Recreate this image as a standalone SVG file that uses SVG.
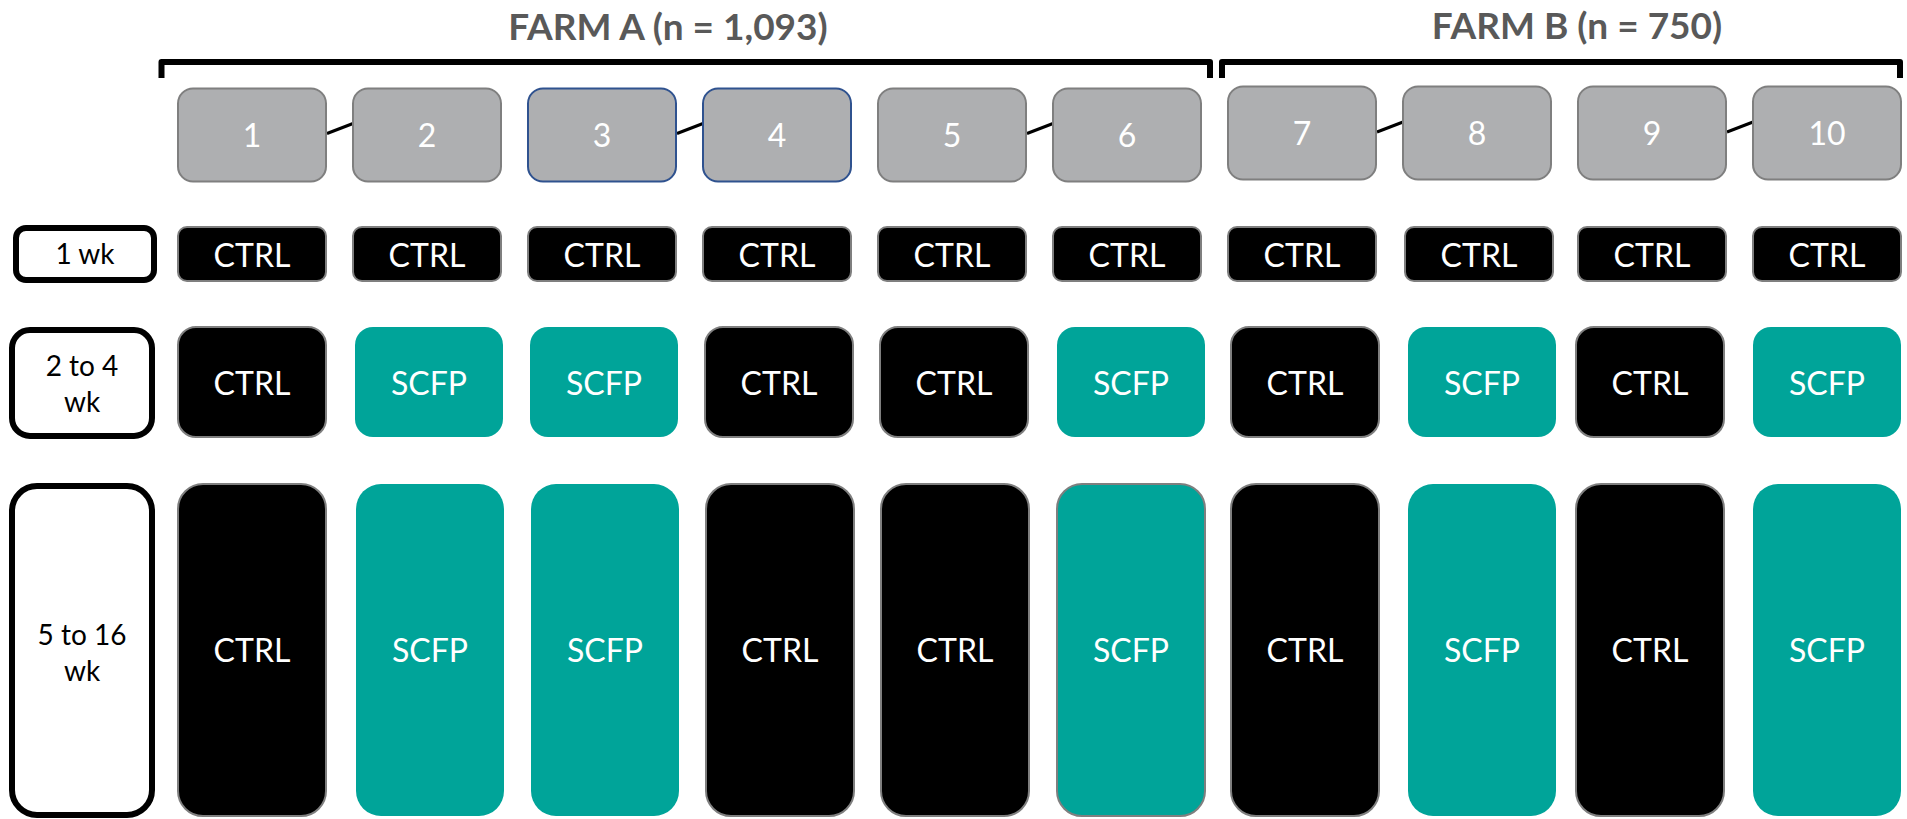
<svg xmlns="http://www.w3.org/2000/svg" width="1907" height="819" viewBox="0 0 1907 819">
  <style>
    .pen { fill: #aeafb1; stroke: #7f7f7f; stroke-width: 2; }
    .pen.blue { stroke: #2f528f; }
    .ctrl { fill: #000000; stroke: #7f7f7f; stroke-width: 2; }
    .scfp { fill: #00a499; }
    .scfp.edged { stroke: #7f7f7f; stroke-width: 2; }
    .lbl { fill: #ffffff; stroke: #000000; stroke-width: 6; }
    .num, .trt { font-family: Lato, "Open Sans", sans-serif; font-size: 32px; fill: #ffffff; text-anchor: middle; }
    .lbltxt { font-family: Lato, "Open Sans", sans-serif; font-size: 28px; fill: #000000; text-anchor: middle; }
    .farm { font-family: Lato, "Open Sans", sans-serif; font-weight: bold; font-size: 37px; fill: #595959; text-anchor: middle; }
    .brace { fill: none; stroke: #000000; stroke-width: 6; stroke-linejoin: round; }
    .link { stroke: #000000; stroke-width: 3; }
  </style>
  <rect width="1907" height="819" fill="#ffffff"/>

  <!-- farm headings and brackets -->
  <g id="farm-a">
    <text class="farm" x="668" y="40">FARM A (n = 1,093)</text>
    <path class="brace" d="M161.5,78 V62 H1210 V78"/>
  </g>
  <g id="farm-b">
    <text class="farm" x="1577" y="39">FARM B (n = 750)</text>
    <path class="brace" d="M1222,78 V62 H1900 V78"/>
  </g>

  <!-- pen links -->
  <g id="connectors">
    <line class="link" x1="327" y1="133.5" x2="353" y2="123.5"/>
    <line class="link" x1="677" y1="133.5" x2="703" y2="123.5"/>
    <line class="link" x1="1027" y1="133.5" x2="1053" y2="123.5"/>
    <line class="link" x1="1377" y1="132" x2="1403" y2="122"/>
    <line class="link" x1="1727" y1="132" x2="1753" y2="122"/>
  </g>

  <!-- pens -->
  <g id="pen-1"><rect class="pen" x="178" y="88.5" width="148" height="93" rx="15"/><text class="num" x="252" y="147">1</text></g>
  <g id="pen-2"><rect class="pen" x="353" y="88.5" width="148" height="93" rx="15"/><text class="num" x="427" y="147">2</text></g>
  <g id="pen-3"><rect class="pen blue" x="528" y="88.5" width="148" height="93" rx="15"/><text class="num" x="602" y="147">3</text></g>
  <g id="pen-4"><rect class="pen blue" x="703" y="88.5" width="148" height="93" rx="15"/><text class="num" x="777" y="147">4</text></g>
  <g id="pen-5"><rect class="pen" x="878" y="88.5" width="148" height="93" rx="15"/><text class="num" x="952" y="147">5</text></g>
  <g id="pen-6"><rect class="pen" x="1053" y="88.5" width="148" height="93" rx="15"/><text class="num" x="1127" y="147">6</text></g>
  <g id="pen-7"><rect class="pen" x="1228" y="86.5" width="148" height="93" rx="15"/><text class="num" x="1302" y="145">7</text></g>
  <g id="pen-8"><rect class="pen" x="1403" y="86.5" width="148" height="93" rx="15"/><text class="num" x="1477" y="145">8</text></g>
  <g id="pen-9"><rect class="pen" x="1578" y="86.5" width="148" height="93" rx="15"/><text class="num" x="1652" y="145">9</text></g>
  <g id="pen-10"><rect class="pen" x="1753" y="86.5" width="148" height="93" rx="15"/><text class="num" x="1827" y="145">10</text></g>

  <!-- period labels -->
  <g id="period-1wk"><rect class="lbl" x="16" y="228" width="138" height="52" rx="10"/><text class="lbltxt" x="85" y="264">1 wk</text></g>
  <g id="period-2to4"><rect class="lbl" x="12" y="330" width="140" height="106" rx="18"/><text class="lbltxt" x="82" y="376">2 to 4</text><text class="lbltxt" x="82" y="412">wk</text></g>
  <g id="period-5to16"><rect class="lbl" x="12" y="486" width="140" height="329" rx="25"/><text class="lbltxt" x="82" y="645">5 to 16</text><text class="lbltxt" x="82" y="681">wk</text></g>

  <!-- week 1: all control -->
  <g id="w1-1"><rect class="ctrl" x="178" y="227" width="148" height="54" rx="9"/><text class="trt" x="252" y="267">CTRL</text></g>
  <g id="w1-2"><rect class="ctrl" x="353" y="227" width="148" height="54" rx="9"/><text class="trt" x="427" y="267">CTRL</text></g>
  <g id="w1-3"><rect class="ctrl" x="528" y="227" width="148" height="54" rx="9"/><text class="trt" x="602" y="267">CTRL</text></g>
  <g id="w1-4"><rect class="ctrl" x="703" y="227" width="148" height="54" rx="9"/><text class="trt" x="777" y="267">CTRL</text></g>
  <g id="w1-5"><rect class="ctrl" x="878" y="227" width="148" height="54" rx="9"/><text class="trt" x="952" y="267">CTRL</text></g>
  <g id="w1-6"><rect class="ctrl" x="1053" y="227" width="148" height="54" rx="9"/><text class="trt" x="1127" y="267">CTRL</text></g>
  <g id="w1-7"><rect class="ctrl" x="1228" y="227" width="148" height="54" rx="9"/><text class="trt" x="1302" y="267">CTRL</text></g>
  <g id="w1-8"><rect class="ctrl" x="1405" y="227" width="148" height="54" rx="9"/><text class="trt" x="1479" y="267">CTRL</text></g>
  <g id="w1-9"><rect class="ctrl" x="1578" y="227" width="148" height="54" rx="9"/><text class="trt" x="1652" y="267">CTRL</text></g>
  <g id="w1-10"><rect class="ctrl" x="1753" y="227" width="148" height="54" rx="9"/><text class="trt" x="1827" y="267">CTRL</text></g>

  <!-- weeks 2 to 4 -->
  <g id="w2-1"><rect class="ctrl" x="178" y="327" width="148" height="110" rx="18"/><text class="trt" x="252" y="395">CTRL</text></g>
  <g id="w2-2"><rect class="scfp" x="355" y="327" width="148" height="110" rx="18"/><text class="trt" x="429" y="395">SCFP</text></g>
  <g id="w2-3"><rect class="scfp" x="530" y="327" width="148" height="110" rx="18"/><text class="trt" x="604" y="395">SCFP</text></g>
  <g id="w2-4"><rect class="ctrl" x="705" y="327" width="148" height="110" rx="18"/><text class="trt" x="779" y="395">CTRL</text></g>
  <g id="w2-5"><rect class="ctrl" x="880" y="327" width="148" height="110" rx="18"/><text class="trt" x="954" y="395">CTRL</text></g>
  <g id="w2-6"><rect class="scfp" x="1057" y="327" width="148" height="110" rx="18"/><text class="trt" x="1131" y="395">SCFP</text></g>
  <g id="w2-7"><rect class="ctrl" x="1231" y="327" width="148" height="110" rx="18"/><text class="trt" x="1305" y="395">CTRL</text></g>
  <g id="w2-8"><rect class="scfp" x="1408" y="327" width="148" height="110" rx="18"/><text class="trt" x="1482" y="395">SCFP</text></g>
  <g id="w2-9"><rect class="ctrl" x="1576" y="327" width="148" height="110" rx="18"/><text class="trt" x="1650" y="395">CTRL</text></g>
  <g id="w2-10"><rect class="scfp" x="1753" y="327" width="148" height="110" rx="18"/><text class="trt" x="1827" y="395">SCFP</text></g>

  <!-- weeks 5 to 16 -->
  <g id="w5-1"><rect class="ctrl" x="178" y="484" width="148" height="332" rx="25"/><text class="trt" x="252" y="662">CTRL</text></g>
  <g id="w5-2"><rect class="scfp" x="356" y="484" width="148" height="332" rx="25"/><text class="trt" x="430" y="662">SCFP</text></g>
  <g id="w5-3"><rect class="scfp" x="531" y="484" width="148" height="332" rx="25"/><text class="trt" x="605" y="662">SCFP</text></g>
  <g id="w5-4"><rect class="ctrl" x="706" y="484" width="148" height="332" rx="25"/><text class="trt" x="780" y="662">CTRL</text></g>
  <g id="w5-5"><rect class="ctrl" x="881" y="484" width="148" height="332" rx="25"/><text class="trt" x="955" y="662">CTRL</text></g>
  <g id="w5-6"><rect class="scfp edged" x="1057" y="484" width="148" height="332" rx="25"/><text class="trt" x="1131" y="662">SCFP</text></g>
  <g id="w5-7"><rect class="ctrl" x="1231" y="484" width="148" height="332" rx="25"/><text class="trt" x="1305" y="662">CTRL</text></g>
  <g id="w5-8"><rect class="scfp" x="1408" y="484" width="148" height="332" rx="25"/><text class="trt" x="1482" y="662">SCFP</text></g>
  <g id="w5-9"><rect class="ctrl" x="1576" y="484" width="148" height="332" rx="25"/><text class="trt" x="1650" y="662">CTRL</text></g>
  <g id="w5-10"><rect class="scfp" x="1753" y="484" width="148" height="332" rx="25"/><text class="trt" x="1827" y="662">SCFP</text></g>
</svg>
